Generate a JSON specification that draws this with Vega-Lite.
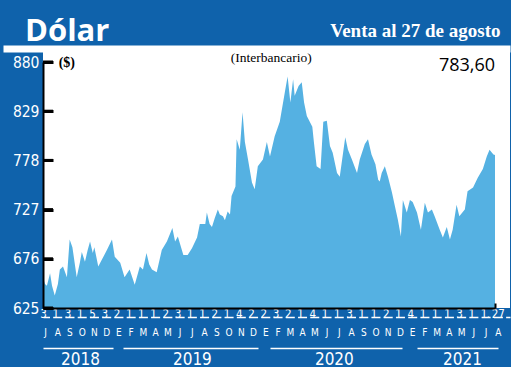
{
  "$schema": "https://vega.github.io/schema/vega-lite/v6.json",
  "width": 467,
  "height": 256,
  "autosize": "none",
  "padding": {"left": 43, "top": 52, "right": 1, "bottom": 59},
  "background": "#0f62ab",
  "view": {"fill": "white", "stroke": null},
  "config": {"axis": {"grid": false}, "font": "Liberation Sans Narrow, DejaVu Sans Condensed, sans-serif"},
  "title": {"text": "Dólar", "anchor": "start", "frame": "group", "font": "Open Sans", "fontSize": 31, "fontWeight": "bold", "color": "white", "dx": -18, "dy": 27, "baseline": "alphabetic", "offset": -23},
  "datasets": {
    "series": [
      {"date": "2018-07-02", "value": 655}, {"date": "2018-07-06", "value": 650}, {"date": "2018-07-11", "value": 648}, {"date": "2018-07-19", "value": 661}, {"date": "2018-07-24", "value": 648}, {"date": "2018-07-31", "value": 638}, {"date": "2018-08-08", "value": 650}, {"date": "2018-08-13", "value": 665}, {"date": "2018-08-21", "value": 668}, {"date": "2018-08-31", "value": 657}, {"date": "2018-09-07", "value": 696}, {"date": "2018-09-14", "value": 688}, {"date": "2018-09-25", "value": 657}, {"date": "2018-10-03", "value": 672}, {"date": "2018-10-08", "value": 683}, {"date": "2018-10-16", "value": 673}, {"date": "2018-10-23", "value": 685}, {"date": "2018-10-29", "value": 694}, {"date": "2018-11-05", "value": 682}, {"date": "2018-11-09", "value": 688}, {"date": "2018-11-19", "value": 668}, {"date": "2018-11-28", "value": 675}, {"date": "2018-12-11", "value": 685}, {"date": "2018-12-24", "value": 696}, {"date": "2018-12-31", "value": 678},
      {"date": "2019-01-14", "value": 672}, {"date": "2019-01-25", "value": 657}, {"date": "2019-02-07", "value": 665}, {"date": "2019-02-20", "value": 649}, {"date": "2019-03-05", "value": 668}, {"date": "2019-03-13", "value": 665}, {"date": "2019-03-22", "value": 682}, {"date": "2019-03-29", "value": 670}, {"date": "2019-04-05", "value": 665}, {"date": "2019-04-17", "value": 662}, {"date": "2019-04-30", "value": 685}, {"date": "2019-05-13", "value": 694}, {"date": "2019-05-27", "value": 708}, {"date": "2019-06-03", "value": 694}, {"date": "2019-06-10", "value": 699}, {"date": "2019-06-24", "value": 680}, {"date": "2019-07-05", "value": 680}, {"date": "2019-07-16", "value": 687}, {"date": "2019-07-29", "value": 698}, {"date": "2019-08-05", "value": 712}, {"date": "2019-08-19", "value": 712}, {"date": "2019-08-23", "value": 724}, {"date": "2019-08-30", "value": 712}, {"date": "2019-09-05", "value": 709}, {"date": "2019-09-12", "value": 718}, {"date": "2019-09-20", "value": 727}, {"date": "2019-09-25", "value": 722}, {"date": "2019-10-03", "value": 720}, {"date": "2019-10-08", "value": 716}, {"date": "2019-10-15", "value": 725}, {"date": "2019-10-21", "value": 722}, {"date": "2019-10-25", "value": 741}, {"date": "2019-11-04", "value": 751}, {"date": "2019-11-07", "value": 800}, {"date": "2019-11-15", "value": 789}, {"date": "2019-11-22", "value": 828}, {"date": "2019-11-28", "value": 797}, {"date": "2019-12-06", "value": 779}, {"date": "2019-12-16", "value": 755}, {"date": "2019-12-23", "value": 748}, {"date": "2019-12-31", "value": 772},
      {"date": "2020-01-13", "value": 779}, {"date": "2020-01-23", "value": 797}, {"date": "2020-01-31", "value": 782}, {"date": "2020-02-12", "value": 803}, {"date": "2020-02-25", "value": 818}, {"date": "2020-03-09", "value": 849}, {"date": "2020-03-16", "value": 865}, {"date": "2020-03-23", "value": 838}, {"date": "2020-03-30", "value": 862}, {"date": "2020-04-03", "value": 845}, {"date": "2020-04-13", "value": 855}, {"date": "2020-04-21", "value": 859}, {"date": "2020-04-27", "value": 838}, {"date": "2020-05-04", "value": 824}, {"date": "2020-05-18", "value": 813}, {"date": "2020-05-22", "value": 797}, {"date": "2020-05-29", "value": 772}, {"date": "2020-06-08", "value": 769}, {"date": "2020-06-15", "value": 818}, {"date": "2020-06-24", "value": 819}, {"date": "2020-07-02", "value": 793}, {"date": "2020-07-09", "value": 786}, {"date": "2020-07-20", "value": 765}, {"date": "2020-07-27", "value": 761}, {"date": "2020-08-10", "value": 802}, {"date": "2020-08-17", "value": 789}, {"date": "2020-08-27", "value": 779}, {"date": "2020-09-09", "value": 765}, {"date": "2020-09-16", "value": 779}, {"date": "2020-09-29", "value": 795}, {"date": "2020-10-07", "value": 800}, {"date": "2020-10-16", "value": 784}, {"date": "2020-10-26", "value": 774}, {"date": "2020-11-02", "value": 758}, {"date": "2020-11-06", "value": 756}, {"date": "2020-11-11", "value": 765}, {"date": "2020-11-19", "value": 772}, {"date": "2020-11-27", "value": 761}, {"date": "2020-12-07", "value": 745}, {"date": "2020-12-15", "value": 730}, {"date": "2020-12-22", "value": 717}, {"date": "2020-12-30", "value": 699},
      {"date": "2021-01-04", "value": 737}, {"date": "2021-01-14", "value": 724}, {"date": "2021-01-22", "value": 737}, {"date": "2021-01-29", "value": 735}, {"date": "2021-02-09", "value": 724}, {"date": "2021-02-19", "value": 706}, {"date": "2021-03-01", "value": 734}, {"date": "2021-03-09", "value": 724}, {"date": "2021-03-19", "value": 727}, {"date": "2021-03-26", "value": 720}, {"date": "2021-04-08", "value": 706}, {"date": "2021-04-16", "value": 698}, {"date": "2021-04-26", "value": 709}, {"date": "2021-05-04", "value": 696}, {"date": "2021-05-11", "value": 706}, {"date": "2021-05-21", "value": 732}, {"date": "2021-05-28", "value": 720}, {"date": "2021-06-11", "value": 727}, {"date": "2021-06-18", "value": 746}, {"date": "2021-07-02", "value": 750}, {"date": "2021-07-14", "value": 760}, {"date": "2021-07-27", "value": 769}, {"date": "2021-08-06", "value": 782}, {"date": "2021-08-13", "value": 789}, {"date": "2021-08-23", "value": 784}, {"date": "2021-08-27", "value": 783.6}
    ],
    "months": [
      {"i": 0}, {"i": 1}, {"i": 2}, {"i": 3}, {"i": 4}, {"i": 5}, {"i": 6}, {"i": 7}, {"i": 8}, {"i": 9}, {"i": 10}, {"i": 11}, {"i": 12}, {"i": 13}, {"i": 14}, {"i": 15}, {"i": 16}, {"i": 17}, {"i": 18}, {"i": 19}, {"i": 20}, {"i": 21}, {"i": 22}, {"i": 23}, {"i": 24}, {"i": 25}, {"i": 26}, {"i": 27}, {"i": 28}, {"i": 29}, {"i": 30}, {"i": 31}, {"i": 32}, {"i": 33}, {"i": 34}, {"i": 35}, {"i": 36}, {"i": 37}
    ],
    "yticks": [{"v": 625}, {"v": 676}, {"v": 727}, {"v": 778}, {"v": 829}, {"v": 880}],
    "notes": [
      {"date": "2018-08-10", "value": 879, "label": "($)"},
      {"date": "2020-02-03", "value": 884.5, "label": "(Interbancario)"},
      {"date": "2021-08-27", "value": 876, "label": "783,60"}
    ]
  },
  "resolve": {"scale": {"x": "independent"}, "axis": {"x": "independent"}},
  "layer": [
    {
      "data": {"name": "months"},
      "mark": {"type": "point", "opacity": 0},
      "encoding": {
        "x": {"field": "i", "type": "quantitative", "scale": {"domain": [0, 37], "range": [-40, 467], "nice": false, "zero": false},
          "axis": {"orient": "top", "offset": 3.5, "domainColor": "white", "domainWidth": 7, "ticks": false, "labels": false, "grid": false,
            "title": "Venta al 27 de agosto", "titleColor": "white", "titleFont": "Liberation Serif", "titleFontSize": 19, "titleFontWeight": "bold", "titleX": 457, "titleY": -12, "titleAlign": "right", "titleBaseline": "alphabetic", "titleAnchor": "end"}}
      }
    },
    {
      "data": {"name": "series"},
      "mark": {"type": "area", "color": "#55b1e2"},
      "encoding": {
        "x": {"field": "date", "type": "temporal", "scale": {"type": "utc", "domain": [1530403200000, 1630022400000], "range": [0, 452]},
          "axis": {"orient": "bottom", "values": [1630022400000], "labels": false, "domainColor": "black", "domainWidth": 2, "tickColor": "black", "tickWidth": 2, "tickSize": -5, "title": null, "zindex": 1}},
        "y": {"field": "value", "type": "quantitative", "scale": {"domain": [625, 880], "range": [256, 10], "zero": false, "nice": false},
          "axis": {"values": [625, 676, 727, 778, 829, 880], "title": null, "domainColor": "black", "domainWidth": 2, "tickColor": "black", "tickWidth": 3, "tickSize": -10, "labelPadding": 14, "labelColor": "white", "labelFontSize": 15.5, "labelFont": "Liberation Sans Narrow, DejaVu Sans Condensed", "zindex": 1}},
        "y2": {"datum": 625}
      }
    },
    {
      "data": {"name": "yticks"},
      "mark": {"type": "rule", "color": "black", "strokeWidth": 3},
      "encoding": {
        "x": {"datum": 1530403200000, "type": "temporal", "scale": {"type": "utc", "domain": [1530403200000, 1630022400000], "range": [0, 452]}, "axis": null},
        "x2": {"datum": 1532606400000},
        "y": {"field": "v", "type": "quantitative"}
      }
    },
    {
      "data": {"name": "notes"},
      "transform": [{"filter": "datum.label == '($)'"}],
      "mark": {"type": "text", "align": "left", "baseline": "middle", "font": "Liberation Serif", "fontWeight": "bold", "fontSize": 14, "color": "black"},
      "encoding": {
        "x": {"field": "date", "type": "temporal", "scale": {"type": "utc", "domain": [1530403200000, 1630022400000], "range": [0, 452]}, "axis": null},
        "y": {"field": "value", "type": "quantitative"},
        "text": {"field": "label"}
      }
    },
    {
      "data": {"name": "notes"},
      "transform": [{"filter": "datum.label == '(Interbancario)'"}],
      "mark": {"type": "text", "align": "center", "baseline": "middle", "font": "Liberation Serif", "fontSize": 13.5, "color": "black"},
      "encoding": {
        "x": {"field": "date", "type": "temporal", "scale": {"type": "utc", "domain": [1530403200000, 1630022400000], "range": [0, 452]}, "axis": null},
        "y": {"field": "value", "type": "quantitative"},
        "text": {"field": "label"}
      }
    },
    {
      "data": {"name": "notes"},
      "transform": [{"filter": "datum.label == '783,60'"}],
      "mark": {"type": "text", "align": "right", "baseline": "middle", "font": "Open Sans", "fontSize": 18, "color": "black"},
      "encoding": {
        "x": {"field": "date", "type": "temporal", "scale": {"type": "utc", "domain": [1530403200000, 1630022400000], "range": [0, 452]}, "axis": null},
        "y": {"field": "value", "type": "quantitative"},
        "text": {"field": "label"}
      }
    },
    {
      "data": {"name": "months"},
      "mark": {"type": "point", "opacity": 0},
      "encoding": {
        "x": {"field": "i", "type": "quantitative", "scale": {"domain": [-0.1634, 37.99], "range": [0, 467], "nice": false, "zero": false},
          "axis": {"orient": "bottom", "offset": 0, "values": [0,1,2,3,4,5,6,7,8,9,10,11,12,13,14,15,16,17,18,19,20,21,22,23,24,25,26,27,28,29,30,31,32,33,34,35,36,36.35,37.15],
            "labelExpr": "datum.value == 36.35 ? '.' : datum.value == 37.15 ? '27' : ['3','1','3','1','5','3','2','1','1','1','2','3','1','1','2','1','4','2','2','3','2','1','4','1','1','3','1','1','2','1','4','1','1','1','3','1','1'][datum.value]",
            "domain": false, "ticks": false, "labelColor": "white", "labelFontSize": 11.5, "labelPadding": 0, "labelOffset": -2, "labelFont": "Liberation Sans Narrow, DejaVu Sans Condensed", "labelOverlap": false, "labelFlush": false, "labelBound": false, "title": null}}
      }
    },
    {
      "data": {"name": "months"},
      "mark": {"type": "point", "opacity": 0},
      "encoding": {
        "x": {"field": "i", "type": "quantitative", "scale": {"domain": [-0.1634, 37.99], "range": [0, 467], "nice": false, "zero": false},
          "axis": {"orient": "bottom", "offset": 9, "values": [0,1,2,3,4,5,6,7,8,9,10,11,12,13,14,15,16,17,18,19,20,21,22,23,24,25,26,27,28,29,30,31,32,33,34,35,36,37],
            "labelExpr": "['J','A','S','O','N','D','E','F','M','A','M','J','J','A','S','O','N','D','E','F','M','A','M','J','J','A','S','O','N','D','E','F','M','A','M','J','J','A'][datum.value]",
            "domainColor": "white", "domainWidth": 1.5, "domainDash": [9, 3.24], "domainDashOffset": 2.5, "ticks": false, "labelColor": "white", "labelFontSize": 10, "labelPadding": 10, "labelFont": "Liberation Sans Narrow, DejaVu Sans Condensed", "labelOverlap": false, "labelFlush": false, "title": null}}
      }
    },
    {
      "data": {"name": "months"},
      "mark": {"type": "point", "opacity": 0},
      "encoding": {
        "x": {"field": "i", "type": "quantitative", "scale": {"domain": [-0.1634, 37.99], "range": [0, 467], "nice": false, "zero": false},
          "axis": {"orient": "bottom", "offset": 40, "values": [2.86, 12.0, 23.6, 34.07],
            "labelExpr": "datum.value < 7 ? '2018' : datum.value < 18 ? '2019' : datum.value < 30 ? '2020' : '2021'",
            "domainColor": "white", "domainWidth": 1.5, "domainDash": [70, 10, 135, 12, 132, 15, 81, 100], "ticks": false, "labelColor": "white", "labelFontSize": 17, "labelPadding": 3, "labelFont": "Liberation Sans Narrow, DejaVu Sans Condensed", "labelOverlap": false, "labelFlush": false, "title": null}}
      }
    }
  ]
}
